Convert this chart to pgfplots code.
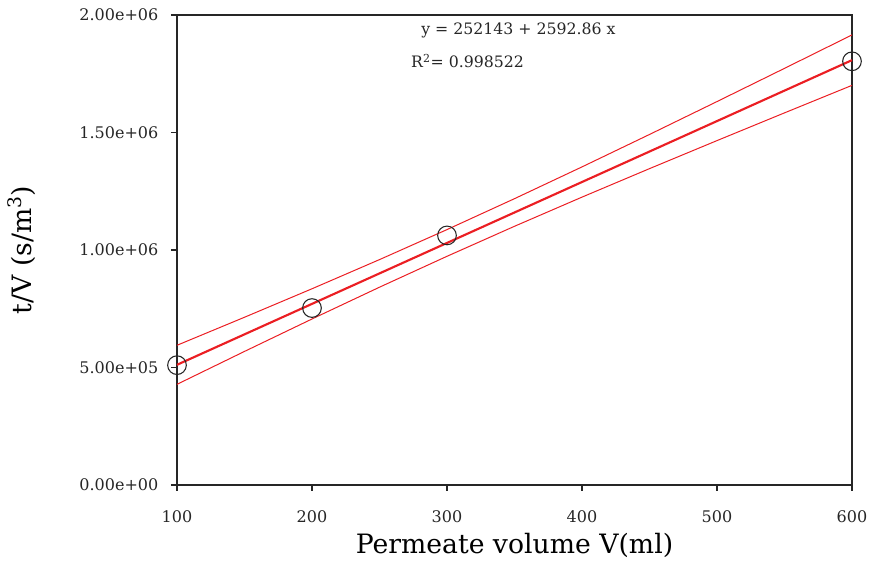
\documentclass[border=0pt]{standalone}
\usepackage{fontspec}
\setmainfont{DejaVu Serif}
\usepackage{pgfplots}
\pgfplotsset{compat=1.18}
\definecolor{fitred}{RGB}{235,30,35}
\begin{document}
\begin{tikzpicture}
\useasboundingbox (-132.75pt,-60.75pt) rectangle (519.75pt,363.75pt);
\begin{axis}[
  at={(0pt,0pt)}, anchor=south west,
  scale only axis,
  width=506.25pt, height=352.5pt,
  xmin=100, xmax=600, ymin=0, ymax=2000000,
  axis line style={black!85, line width=0.8pt},
  tick style={black!85, line width=0.8pt},
  tick align=outside,
  major tick length=4.5pt,
  xtick pos=bottom, ytick pos=left,
  xtick={100,200,300,400,500,600},
  xticklabels={100,200,300,400,500,600},
  ytick={0,500000,1000000,1500000,2000000},
  yticklabels={0.00e+00,5.00e+05,1.00e+06,1.50e+06,2.00e+06},
  scaled y ticks=false,
  tick label style={font=\fontsize{12}{14}\selectfont, text=black!85},
  xticklabel style={yshift=-11pt},
  yticklabel style={xshift=-6pt},
  xlabel={Permeate volume V(ml)},
  ylabel={t/V (s/m\textsuperscript{3})},
  xlabel style={font=\fontsize{20}{24}\selectfont, at={(axis description cs:0.5,-0.128)}, anchor=center},
  ylabel style={font=\fontsize{20}{24}\selectfont, at={(axis description cs:-0.23,0.5)}, anchor=center},
  clip=false,
]
\addplot[fitred, line width=0.75pt] coordinates {
(100,594500) (150,713800) (200,835000) (250,959100) (300,1086800) (350,1218400) (400,1353600) (450,1491600) (500,1631600) (550,1772900) (600,1915200)};
\addplot[fitred, line width=0.75pt] coordinates {
(100,428400) (150,568400) (200,706400) (250,841700) (300,973200) (350,1100900) (400,1225000) (450,1346200) (500,1465500) (550,1583500) (600,1700600)};
\addplot[fitred, line width=1.6pt] coordinates {(100,511429) (600,1807859)};
\addplot[only marks, mark=o, mark size=7pt, mark options={black!85, line width=0.8pt}] coordinates {
(100,510000) (200,753000) (300,1062000) (600,1803000)};
\node[anchor=west, font=\fontsize{11.8}{14}\selectfont, text=black!85] at (axis cs:277.5,1936000) {y = 252143 + 2592.86 x};
\node[anchor=west, font=\fontsize{11.8}{14}\selectfont, text=black!85] at (axis cs:270,1804000) {R\textsuperscript{2}= 0.998522};
\end{axis}
\end{tikzpicture}
\end{document}
